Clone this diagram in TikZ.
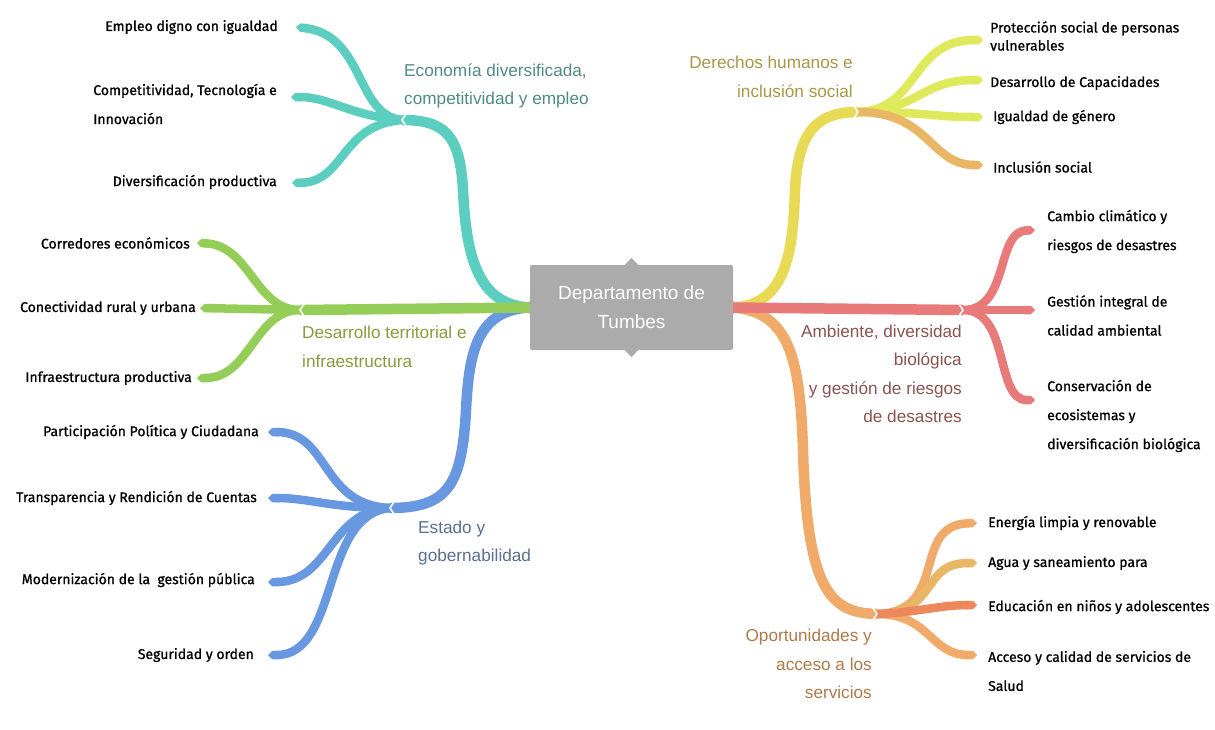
\documentclass[tikz,border=0pt]{standalone}
\usepackage{fontspec}
\setmainfont{Liberation Sans}
\newfontfamily\leaffont[FakeBold=0.9]{Fira Sans}
\usetikzlibrary{arrows.meta,calc}
\definecolor{cTeal}{RGB}{92,206,192}
\definecolor{cGreen}{RGB}{148,206,88}
\definecolor{cBlue}{RGB}{104,152,224}
\definecolor{cYel}{RGB}{232,218,84}
\definecolor{cYelG}{RGB}{222,234,92}
\definecolor{cTan}{RGB}{232,182,100}
\definecolor{cSal}{RGB}{232,122,122}
\definecolor{cOra}{RGB}{240,170,106}
\definecolor{cOraD}{RGB}{236,136,92}
\definecolor{cGray}{RGB}{171,171,171}
\definecolor{tTeal}{RGB}{80,140,132}
\definecolor{tOlive}{RGB}{168,152,74}
\definecolor{tGreen}{RGB}{140,154,62}
\definecolor{tBrown}{RGB}{138,84,80}
\definecolor{tBlue}{RGB}{90,112,144}
\definecolor{tOra}{RGB}{176,122,74}
\begin{document}
\begin{tikzpicture}[x=1pt,y=-1pt,
  mainbr/.style={line width=10.5pt, line cap=butt},
  leafbr/.style={line width=8.5pt, line cap=butt, -{Triangle Cap[]}},
  brlabel/.style={font=\fontsize{17.2}{28.5}\selectfont, inner sep=0pt},
  leafL/.style={font=\leaffont\fontsize{14}{29}\selectfont, inner sep=0pt, anchor=east, align=left, text=black},
  leafR/.style={font=\leaffont\fontsize{14}{29}\selectfont, inner sep=0pt, anchor=west, align=left, text=black},
  hubnotch/.style={white, line width=1.6pt}
]
\useasboundingbox (0,0) rectangle (1215,729);
\fill[white] (0,0) rectangle (1215,729);

% centre node
\node[fill=cGray, text=white, minimum width=203pt, minimum height=85pt, inner sep=0pt, rounded corners=2pt,
      align=center, font=\fontsize{19}{29}\selectfont] (c) at (631.5,307.5) {Departamento de\\Tumbes};
\fill[cGray] ($(c.west)+(0.5,-7)$) -- ($(c.west)+(-6,0)$) -- ($(c.west)+(0.5,7)$) -- cycle;
\fill[cGray] ($(c.east)+(-0.5,-7)$) -- ($(c.east)+(6,0)$) -- ($(c.east)+(-0.5,7)$) -- cycle;
\fill[cGray] ($(c.north)+(-7,0.5)$) -- ($(c.north)+(0,-7)$) -- ($(c.north)+(7,0.5)$) -- cycle;
\fill[cGray] ($(c.south)+(-7,-0.5)$) -- ($(c.south)+(0,7)$) -- ($(c.south)+(7,-0.5)$) -- cycle;

% hubs
\coordinate (hE) at (402,120);
\coordinate (hT) at (300,310);
\coordinate (hS) at (390,508);
\coordinate (hD) at (858,112);
\coordinate (hA) at (963,310);
\coordinate (hO) at (877,614);

% leaf ends
\coordinate (eE1) at (296,27);  \coordinate (eE2) at (291,97);  \coordinate (eE3) at (292,183);
\coordinate (eT1) at (197,243); \coordinate (eT2) at (200,308); \coordinate (eT3) at (197,378);
\coordinate (eS1) at (268,432); \coordinate (eS2) at (268,498); \coordinate (eS3) at (268,582); \coordinate (eS4) at (268,655);
\coordinate (eD1) at (983,40);  \coordinate (eD2) at (983,80);  \coordinate (eD3) at (983,117); \coordinate (eD4) at (983,165);
\coordinate (eA1) at (1035,230); \coordinate (eA2) at (1035,310); \coordinate (eA3) at (1035,400);
\coordinate (eO1) at (977,523); \coordinate (eO2) at (977,563); \coordinate (eO3) at (977,605); \coordinate (eO4) at (977,655);

% main branches, left
\draw[mainbr, cTeal] (c.west) .. controls (475,305) and (466,250) .. (463,190) .. controls (460,135) and (445,120) .. (hE);
\draw[mainbr, cBlue] (c.west) .. controls (478,310) and (469,350) .. (466,410) .. controls (462,485) and (448,508) .. (hS);
\draw[mainbr, cGreen] (c.west) -- (hT);
% main branches, right
\draw[mainbr, cYel] (c.east) .. controls (787,305) and (793,250) .. (795,190) .. controls (798,128) and (820,112) .. (hD);
\draw[mainbr, cOra] (c.east) .. controls (790,312) and (800,360) .. (803,450) .. controls (807,590) and (830,613) .. (hO);
\draw[mainbr, cSal] (c.east) -- (hA);

% leaf branches
\draw[leafbr, cTeal] (hE) .. controls (355,115) and (365,35) .. (eE1);
\draw[leafbr, cTeal] (hE) .. controls (350,116) and (330,97) .. (eE2);
\draw[leafbr, cTeal] (hE) .. controls (340,125) and (345,182) .. (eE3);

\draw[leafbr, cGreen] (hT) .. controls (255,310) and (250,245) .. (eT1);
\draw[leafbr, cGreen] (hT) -- (eT2);
\draw[leafbr, cGreen] (hT) .. controls (255,310) and (250,378) .. (eT3);

\draw[leafbr, cBlue] (hS) .. controls (320,505) and (330,432) .. (eS1);
\draw[leafbr, cBlue] (hS) .. controls (330,508) and (310,498) .. (eS2);
\draw[leafbr, cBlue] (hS) .. controls (330,510) and (330,582) .. (eS3);
\draw[leafbr, cBlue] (hS) .. controls (320,515) and (340,655) .. (eS4);

\draw[leafbr, cYelG] (hD) .. controls (920,110) and (910,40) .. (eD1);
\draw[leafbr, cYelG] (hD) .. controls (920,110) and (920,80) .. (eD2);
\draw[leafbr, cYelG] (hD) .. controls (930,112) and (930,117) .. (eD3);
\draw[leafbr, cTan] (hD) .. controls (930,112) and (930,165) .. (eD4);

\draw[leafbr, cSal] (hA) .. controls (1010,310) and (995,232) .. (eA1);
\draw[leafbr, cSal] (hA) -- (eA2);
\draw[leafbr, cSal] (hA) .. controls (1010,310) and (995,400) .. (eA3);

\draw[leafbr, cOra] (hO) .. controls (950,612) and (910,525) .. (eO1);
\draw[leafbr, cTan] (hO) .. controls (940,612) and (920,563) .. (eO2);
\draw[leafbr, cOra] (hO) .. controls (930,614) and (930,655) .. (eO4);
\draw[leafbr, cOraD] (hO) .. controls (920,612) and (940,605) .. (eO3);

% hub notches
\foreach \h/\d in {hE/-1,hT/-1,hS/-1,hD/1,hA/1,hO/1}{
  \draw[hubnotch] ($(\h)+(-4*\d,-6)$) -- ($(\h)+(0,0)$) -- ($(\h)+(-4*\d,6)$);
}

% branch labels
\node[brlabel, text=tTeal, anchor=west, align=left] (bE) at (404,86) {Economía diversificada,\\competitividad y empleo};
\node[brlabel, text=tOlive, anchor=east, align=right] (bD) at (853,77) {Derechos humanos e\\inclusión social};
\node[brlabel, text=tGreen, anchor=west, align=left] (bT) at (302,347) {Desarrollo territorial e\\infraestructura};
\node[brlabel, text=tBrown, anchor=east, align=right] (bA) at (962,374) {Ambiente, diversidad\\biológica\\y gestión de riesgos\\de desastres};
\node[brlabel, text=tBlue, anchor=west, align=left] (bS) at (418,543) {Estado y\\gobernabilidad};
\node[brlabel, text=tOra, anchor=east, align=right] (bO) at (872,664) {Oportunidades y\\acceso a los\\servicios};

% leaf texts, left
\node[leafL] (lE1) at (278,27) {Empleo digno con igualdad};
\node[leafL] (lE2) at (277,104) {Competitividad, Tecnología e\\Innovación};
\node[leafL] (lE3) at (277,182) {Diversificación productiva};
\node[leafL] (lT1) at (190,243) {Corredores económicos};
\node[leafL] (lT2) at (196,308) {Conectividad rural y urbana};
\node[leafL] (lT3) at (192,378) {Infraestructura productiva};
\node[leafL] (lS1) at (259,432) {Participación Política y Ciudadana};
\node[leafL] (lS2) at (257,498) {Transparencia y Rendición de Cuentas};
\node[leafL] (lS3) at (255,580) {Modernización de la \ gestión pública};
\node[leafL] (lS4) at (254,655) {Seguridad y orden};
% leaf texts, right
\node[leafR, font=\leaffont\fontsize{14}{18}\selectfont] (lD1) at (990,36) {Protección social de personas\\vulnerables};
\node[leafR] (lD2) at (990,83) {Desarrollo de Capacidades};
\node[leafR] (lD3) at (993,117) {Igualdad de género};
\node[leafR] (lD4) at (993,167) {Inclusión social};
\node[leafR] (lA1) at (1047,231.5) {Cambio climático y\\riesgos de desastres};
\node[leafR] (lA2) at (1047,315.5) {Gestión integral de\\calidad ambiental};
\node[leafR] (lA3) at (1047,416) {Conservación de\\ecosistemas y\\diversificación biológica};
\node[leafR] (lO1) at (988,523) {Energía limpia y renovable};
\node[leafR] (lO2) at (988,563) {Agua y saneamiento para};
\node[leafR] (lO3) at (988,607) {Educación en niños y adolescentes};
\node[leafR] (lO4) at (988,671) {Acceso y calidad de servicios de\\Salud};
\end{tikzpicture}
\end{document}
